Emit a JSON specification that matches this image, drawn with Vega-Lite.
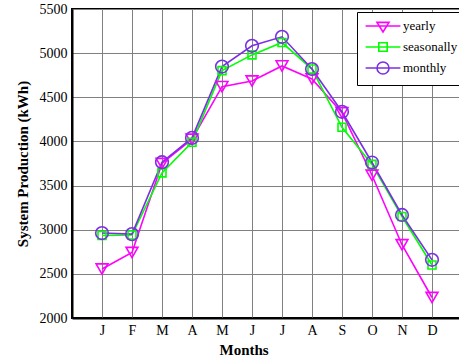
{
  "$schema": "https://vega.github.io/schema/vega-lite/v6.json",
  "width": 390,
  "height": 309,
  "autosize": "none",
  "padding": {"left": 72, "top": 9, "right": 0, "bottom": 40},
  "background": "white",
  "config": {
    "font": "Liberation Serif",
    "view": {"stroke": "black", "strokeWidth": 2},
    "axis": {
      "labelFont": "Liberation Serif",
      "labelFontSize": 14,
      "labelColor": "black",
      "titleFont": "Liberation Serif",
      "titleFontSize": 15,
      "titleFontWeight": "bold",
      "titleColor": "black",
      "domainColor": "black",
      "domainWidth": 2,
      "gridColor": "#808080",
      "gridWidth": 1,
      "gridOpacity": 1,
      "ticks": false
    },
    "legend": {
      "orient": "none",
      "legendX": 285,
      "legendY": 3,
      "strokeColor": "black",
      "fillColor": "white",
      "padding": 7,
      "labelFont": "Liberation Serif",
      "labelFontSize": 13,
      "labelColor": "black",
      "symbolSize": 144,
      "symbolStrokeWidth": 1.6,
      "symbolFillColor": "transparent",
      "symbolOpacity": 1,
      "symbolOffset": 12,
      "labelOffset": 13,
      "rowPadding": 3
    }
  },
  "data": {
    "values": [
      {"m": 1, "month": "Jan", "series": "yearly", "value": 2555},
      {"m": 2, "month": "Feb", "series": "yearly", "value": 2742},
      {"m": 3, "month": "Mar", "series": "yearly", "value": 3750},
      {"m": 4, "month": "Apr", "series": "yearly", "value": 4025},
      {"m": 5, "month": "May", "series": "yearly", "value": 4620},
      {"m": 6, "month": "Jun", "series": "yearly", "value": 4685},
      {"m": 7, "month": "Jul", "series": "yearly", "value": 4855},
      {"m": 8, "month": "Aug", "series": "yearly", "value": 4708},
      {"m": 9, "month": "Sep", "series": "yearly", "value": 4325},
      {"m": 10, "month": "Oct", "series": "yearly", "value": 3617},
      {"m": 11, "month": "Nov", "series": "yearly", "value": 2830},
      {"m": 12, "month": "Dec", "series": "yearly", "value": 2232},
      {"m": 1, "month": "Jan", "series": "seasonally", "value": 2935},
      {"m": 2, "month": "Feb", "series": "seasonally", "value": 2940},
      {"m": 3, "month": "Mar", "series": "seasonally", "value": 3644},
      {"m": 4, "month": "Apr", "series": "seasonally", "value": 3990},
      {"m": 5, "month": "May", "series": "seasonally", "value": 4802},
      {"m": 6, "month": "Jun", "series": "seasonally", "value": 4980},
      {"m": 7, "month": "Jul", "series": "seasonally", "value": 5120},
      {"m": 8, "month": "Aug", "series": "seasonally", "value": 4820},
      {"m": 9, "month": "Sep", "series": "seasonally", "value": 4160},
      {"m": 10, "month": "Oct", "series": "seasonally", "value": 3740},
      {"m": 11, "month": "Nov", "series": "seasonally", "value": 3150},
      {"m": 12, "month": "Dec", "series": "seasonally", "value": 2600},
      {"m": 1, "month": "Jan", "series": "monthly", "value": 2962},
      {"m": 2, "month": "Feb", "series": "monthly", "value": 2950},
      {"m": 3, "month": "Mar", "series": "monthly", "value": 3765},
      {"m": 4, "month": "Apr", "series": "monthly", "value": 4040},
      {"m": 5, "month": "May", "series": "monthly", "value": 4848},
      {"m": 6, "month": "Jun", "series": "monthly", "value": 5083},
      {"m": 7, "month": "Jul", "series": "monthly", "value": 5185},
      {"m": 8, "month": "Aug", "series": "monthly", "value": 4820},
      {"m": 9, "month": "Sep", "series": "monthly", "value": 4336},
      {"m": 10, "month": "Oct", "series": "monthly", "value": 3761},
      {"m": 11, "month": "Nov", "series": "monthly", "value": 3167},
      {"m": 12, "month": "Dec", "series": "monthly", "value": 2659}
    ]
  },
  "encoding": {
    "x": {
      "field": "m",
      "type": "quantitative",
      "scale": {"domain": [0, 13], "nice": false, "zero": false},
      "axis": {
        "values": [1, 2, 3, 4, 5, 6, 7, 8, 9, 10, 11, 12],
        "labelExpr": "['', 'J', 'F', 'M', 'A', 'M', 'J', 'J', 'A', 'S', 'O', 'N', 'D'][datum.value]",
        "title": "Months",
        "labelPadding": 5,
        "titlePadding": 5,
        "titleAnchor": "start",
        "titleX": 147
      }
    },
    "y": {
      "field": "value",
      "type": "quantitative",
      "scale": {"domain": [2000, 5500], "nice": false, "zero": false},
      "axis": {
        "values": [2000, 2500, 3000, 3500, 4000, 4500, 5000, 5500],
        "format": "d",
        "title": "System Production (kWh)",
        "labelPadding": 5,
        "titlePadding": 9
      }
    },
    "color": {
      "field": "series",
      "type": "nominal",
      "scale": {"domain": ["yearly", "seasonally", "monthly"], "range": ["#ff00ff", "#00ff00", "#7b2fe3"]},
      "legend": {"title": null}
    }
  },
  "layer": [
    {
      "mark": {"type": "line", "strokeWidth": 1.6}
    },
    {
      "transform": [{"filter": "datum.series === 'yearly'"}],
      "mark": {"type": "point", "filled": false, "strokeWidth": 1.6, "opacity": 1, "shape": "triangle-down", "size": 140}
    },
    {
      "transform": [{"filter": "datum.series === 'seasonally'"}],
      "mark": {"type": "point", "filled": false, "strokeWidth": 1.6, "opacity": 1, "shape": "square", "size": 64}
    },
    {
      "transform": [{"filter": "datum.series === 'monthly'"}],
      "mark": {"type": "point", "filled": false, "strokeWidth": 1.6, "opacity": 1, "shape": "circle", "size": 160}
    },
    {
      "mark": {"type": "point", "filled": false, "opacity": 0},
      "encoding": {
        "shape": {
          "field": "series",
          "type": "nominal",
          "scale": {
            "domain": ["yearly", "seasonally", "monthly"],
            "range": [
              "M-2.9,0H2.9M-1,-0.6L1,-0.6L0,1Z",
              "M-2.9,0H2.9M-0.7,-0.7H0.7V0.7H-0.7Z",
              "M-2.9,0H2.9M-1,0A1,1 0 1,1 1,0A1,1 0 1,1 -1,0Z"
            ]
          },
          "legend": {"title": null}
        }
      }
    },
    {
      "data": {"values": [{"label": "Elazığ"}]},
      "mark": {"type": "text", "font": "Liberation Serif", "fontWeight": "bold", "fontSize": 14, "align": "left", "baseline": "middle", "color": "black"},
      "encoding": {
        "x": {"datum": 0.1},
        "y": {"datum": 5352},
        "text": {"field": "label"},
        "color": {"value": "black"}
      }
    }
  ]
}
